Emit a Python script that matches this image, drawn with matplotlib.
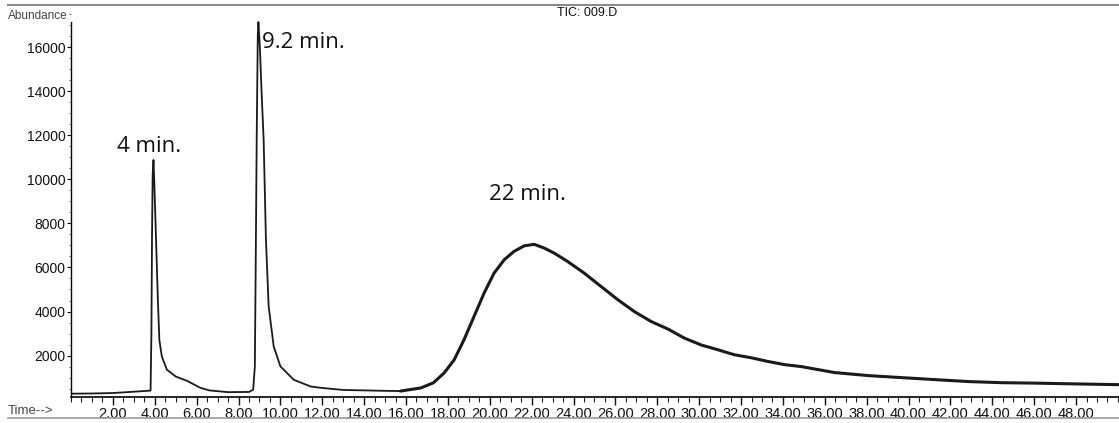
import numpy as np
import matplotlib.pyplot as plt
from matplotlib.ticker import MultipleLocator, FormatStrFormatter
from matplotlib.lines import Line2D

# TIC trace (retention time in minutes, abundance)
time_min = [
    0.00, 1.00, 2.00, 3.00, 3.80, 3.84, 3.87, 3.90, 3.94, 3.99, 4.07, 4.15,
    4.22, 4.34, 4.58, 5.00, 5.55, 6.17, 6.60, 7.50, 8.50, 8.70, 8.78, 8.82,
    8.87, 8.92, 8.95, 9.02, 9.10, 9.20, 9.31, 9.44, 9.68, 10.00, 10.64, 11.44,
    11.90, 13.00, 15.00, 15.74, 16.70, 17.30, 17.82, 18.30, 18.77, 19.25,
    19.73, 20.21, 20.69, 21.16, 21.64, 22.12, 22.60, 23.08, 23.72, 24.50,
    25.31, 26.11, 26.90, 27.70, 28.52, 29.28, 30.10, 30.91, 31.67, 32.49,
    33.30, 34.07, 34.88, 36.46, 38.09, 39.67, 41.24, 42.87, 44.45, 46.03,
    47.66, 50.05,
]
abundance = [
    270, 280, 300, 360, 410, 3000, 7500, 10200, 10880, 9500, 7000, 4500,
    2700, 1950, 1360, 1050, 850, 540, 420, 340, 350, 450, 1500, 6000,
    12000, 16500, 17140, 16000, 14000, 11800, 7250, 4230, 2420, 1510, 900, 600,
    540, 440, 400, 390, 530, 760, 1210, 1810, 2720, 3780,
    4840, 5750, 6350, 6730, 6980, 7050, 6880, 6650, 6270, 5750,
    5140, 4540, 4000, 3550, 3200, 2800, 2480, 2260, 2040, 1900,
    1730, 1590, 1500, 1230, 1090, 1000, 910, 820, 770, 750,
    720, 680,
]

peak_labels = ["4 min.", "9.2 min.", "22 min."]
peak_label_pos = [(2.2, 11500), (9.14, 16200), (19.95, 9300)]

plt.rcParams["font.family"] = ["Liberation Sans", "DejaVu Sans"]

fig = plt.figure(figsize=(11.19, 4.23), dpi=100)
ax = fig.add_axes([71 / 1119, 26 / 423, 1 - 71 / 1119, 392 / 423])

# sharp early peaks drawn thin, broad noisy hump drawn heavier
split = time_min.index(15.74)
ax.plot(time_min[:split + 1], abundance[:split + 1], color="#1a1a1a", linewidth=1.3)
ax.plot(time_min[split:], abundance[split:], color="#1a1a1a", linewidth=2.2,
        solid_joinstyle="round", solid_capstyle="round")

ax.set_xlim(0, 50.05)
ax.set_ylim(120, 17914)

ax.set_xticks(np.arange(2, 50, 2))
ax.xaxis.set_minor_locator(MultipleLocator(0.5))
ax.xaxis.set_major_formatter(FormatStrFormatter("%.2f"))
ax.set_yticks(np.arange(2000, 17000, 2000))
ax.yaxis.set_minor_locator(MultipleLocator(500))

ax.tick_params(axis="x", which="major", length=6, width=1.0, labelsize=10.5, pad=1, colors="#111")
ax.tick_params(axis="x", which="minor", length=3.5, width=0.8, colors="#222")
ax.tick_params(axis="y", which="major", length=3, width=0.8, labelsize=10, pad=1, colors="#111")
ax.tick_params(axis="y", which="minor", length=1.5, width=0.6, colors="#555")

ax.spines["right"].set_visible(False)
ax.spines["top"].set_visible(False)
ax.spines["left"].set_bounds(120, 17150)
ax.spines["left"].set_linewidth(1.0)
ax.spines["bottom"].set_linewidth(1.2)

for txt, (x, y) in zip(peak_labels, peak_label_pos):
    ax.text(x, y, txt, fontsize=16, family=["Open Sans", "DejaVu Sans"], color="#111",
            ha="left", va="center")

fig.text(8 / 1119, 1 - 16 / 423, "Abundance", fontsize=8.5, color="#444", va="center", ha="left")
fig.text(587 / 1119, 1 - 13 / 423, "TIC: 009.D", fontsize=9, color="#111", va="center", ha="center")
fig.text(8 / 1119, 1 - 411 / 423, "Time-->", fontsize=9.5, color="#444", va="center", ha="left")

# frame rules along the top and under the time scale
fig.add_artist(Line2D([8 / 1119, 1.0], [1 - 5 / 423] * 2, color="#8a8a8a", linewidth=1.5))
fig.add_artist(Line2D([8 / 1119, 1.0], [1 - 418 / 423] * 2, color="#9a9a9a", linewidth=1.2))

fig.savefig("out.png", dpi=100)
